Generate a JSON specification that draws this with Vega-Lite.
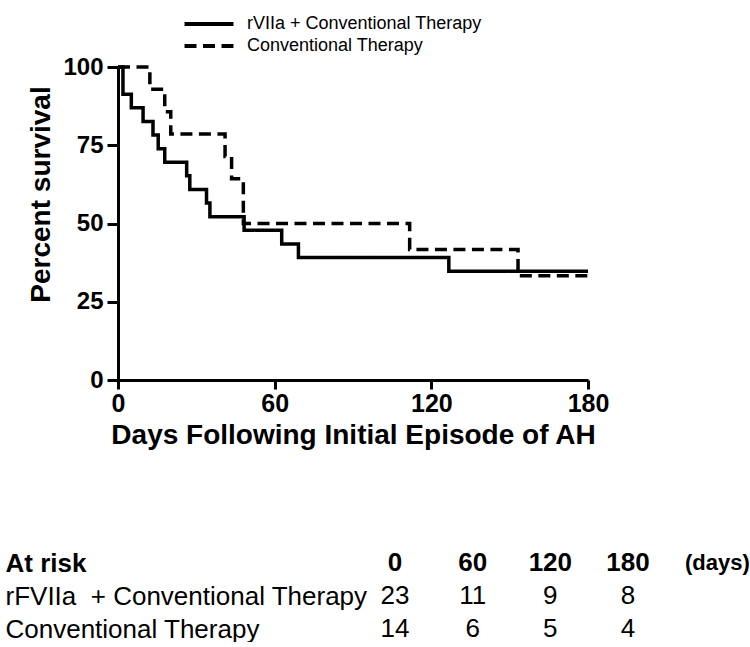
{
  "$schema": "https://vega.github.io/schema/vega-lite/v6.json",
  "padding": {"left": 5, "top": 13, "right": 0, "bottom": 0},
  "background": "white",
  "bounds": "flush",
  "spacing": 183,
  "config": {
    "font": "Liberation Sans",
    "view": {"stroke": null},
    "axis": {"domainColor": "black", "tickColor": "black", "labelColor": "black", "titleColor": "black"}
  },
  "vconcat": [
    {
      "width": 470,
      "height": 313,
      "data": {
        "values": [
          {"group": "rVIIa + Conventional Therapy", "day": 0, "survival": 100},
          {"group": "rVIIa + Conventional Therapy", "day": 1.9, "survival": 91.3},
          {"group": "rVIIa + Conventional Therapy", "day": 5.1, "survival": 86.96},
          {"group": "rVIIa + Conventional Therapy", "day": 9.6, "survival": 82.61},
          {"group": "rVIIa + Conventional Therapy", "day": 13.4, "survival": 78.26},
          {"group": "rVIIa + Conventional Therapy", "day": 15.4, "survival": 73.91},
          {"group": "rVIIa + Conventional Therapy", "day": 17.9, "survival": 69.57},
          {"group": "rVIIa + Conventional Therapy", "day": 26.3, "survival": 65.22},
          {"group": "rVIIa + Conventional Therapy", "day": 27.5, "survival": 60.87},
          {"group": "rVIIa + Conventional Therapy", "day": 33.9, "survival": 56.52},
          {"group": "rVIIa + Conventional Therapy", "day": 35.2, "survival": 52.17},
          {"group": "rVIIa + Conventional Therapy", "day": 48.3, "survival": 47.83},
          {"group": "rVIIa + Conventional Therapy", "day": 62.7, "survival": 43.48},
          {"group": "rVIIa + Conventional Therapy", "day": 69.1, "survival": 39.13},
          {"group": "rVIIa + Conventional Therapy", "day": 126.7, "survival": 34.78},
          {"group": "rVIIa + Conventional Therapy", "day": 180, "survival": 34.78},
          {"group": "Conventional Therapy", "day": 0, "survival": 100},
          {"group": "Conventional Therapy", "day": 12.2, "survival": 92.86},
          {"group": "Conventional Therapy", "day": 17.9, "survival": 85.71},
          {"group": "Conventional Therapy", "day": 20.2, "survival": 78.57},
          {"group": "Conventional Therapy", "day": 41, "survival": 71.43},
          {"group": "Conventional Therapy", "day": 43.5, "survival": 64.29},
          {"group": "Conventional Therapy", "day": 48, "survival": 50},
          {"group": "Conventional Therapy", "day": 111.7, "survival": 41.67},
          {"group": "Conventional Therapy", "day": 153.2, "survival": 33.33},
          {"group": "Conventional Therapy", "day": 180, "survival": 33.33}
        ]
      },
      "mark": {"type": "line", "interpolate": "step-after", "color": "black", "strokeWidth": 3.5},
      "encoding": {
        "x": {
          "field": "day", "type": "quantitative",
          "scale": {"domain": [0, 180], "nice": false},
          "axis": {
            "values": [0, 60, 120, 180], "title": "Days Following Initial Episode of AH", "grid": false,
            "labelFontSize": 25, "labelFontWeight": "bold", "titleFontSize": 28, "titleFontWeight": "bold",
            "tickSize": 9, "tickWidth": 3, "domainWidth": 3, "labelPadding": 2, "titlePadding": 5, "labelFlush": false
          }
        },
        "y": {
          "field": "survival", "type": "quantitative",
          "scale": {"domain": [0, 100], "nice": false},
          "axis": {
            "values": [0, 25, 50, 75, 100], "title": "Percent survival", "grid": false,
            "labelFontSize": 24, "labelFontWeight": "bold", "titleFontSize": 28, "titleFontWeight": "bold",
            "tickSize": 11, "tickWidth": 3, "domainWidth": 3, "labelPadding": 4, "titlePadding": 7, "titleY": 127
          }
        },
        "strokeDash": {
          "field": "group", "type": "nominal",
          "scale": {"domain": ["rVIIa + Conventional Therapy", "Conventional Therapy"], "range": [[1, 0], [12, 6.5]]},
          "legend": {
            "title": null, "orient": "none", "legendX": 80, "legendY": -54,
            "symbolType": "M-2.72,0H2.72", "symbolSize": 324, "symbolStrokeWidth": 4, "symbolStrokeColor": "black",
            "labelFontSize": 18, "labelColor": "black", "labelOffset": 27, "rowPadding": 2, "padding": 0, "labelLimit": 400
          }
        }
      }
    },
    {
      "width": 470,
      "height": 66,
      "data": {
        "values": [
          {"group": "At risk", "day": 0},
          {"group": "At risk", "day": 60},
          {"group": "At risk", "day": 120},
          {"group": "At risk", "day": 180},
          {"group": "rFVIIa\u00a0 + Conventional Therapy", "day": 0, "n": 23},
          {"group": "rFVIIa\u00a0 + Conventional Therapy", "day": 60, "n": 11},
          {"group": "rFVIIa\u00a0 + Conventional Therapy", "day": 120, "n": 9},
          {"group": "rFVIIa\u00a0 + Conventional Therapy", "day": 180, "n": 8},
          {"group": "Conventional Therapy", "day": 0, "n": 14},
          {"group": "Conventional Therapy", "day": 60, "n": 6},
          {"group": "Conventional Therapy", "day": 120, "n": 5},
          {"group": "Conventional Therapy", "day": 180, "n": 4}
        ]
      },
      "encoding": {
        "y": {
          "field": "group", "type": "nominal",
          "scale": {"type": "point", "padding": 0, "domain": ["At risk", "rFVIIa\u00a0 + Conventional Therapy", "Conventional Therapy"]},
          "axis": {
            "title": null, "domain": false, "ticks": false, "tickSize": 0, "labelAlign": "left", "labelPadding": 113,
            "labelLimit": 0, "labelFontSize": 26, "labelColor": "black", "labelBaseline": "middle",
            "labelFontWeight": {"condition": {"test": "datum.value === 'At risk'", "value": "bold"}, "value": "normal"}
          }
        },
        "x": {"field": "day", "type": "quantitative", "scale": {"domain": [0, 180], "range": [277, 510]}, "axis": null}
      },
      "layer": [
        {
          "transform": [{"filter": "datum.group === 'At risk'"}],
          "mark": {"type": "text", "fontSize": 26, "fontWeight": "bold", "color": "black"},
          "encoding": {"text": {"field": "day", "type": "quantitative"}}
        },
        {
          "transform": [{"filter": "datum.group !== 'At risk'"}],
          "mark": {"type": "text", "fontSize": 26, "color": "black"},
          "encoding": {"text": {"field": "n", "type": "quantitative"}}
        },
        {
          "data": {"values": [{"group": "At risk", "day": 180, "unit": "(days)"}]},
          "mark": {"type": "text", "fontSize": 22, "fontWeight": "bold", "align": "left", "dx": 57, "color": "black"},
          "encoding": {"text": {"field": "unit", "type": "nominal"}}
        }
      ]
    }
  ]
}
